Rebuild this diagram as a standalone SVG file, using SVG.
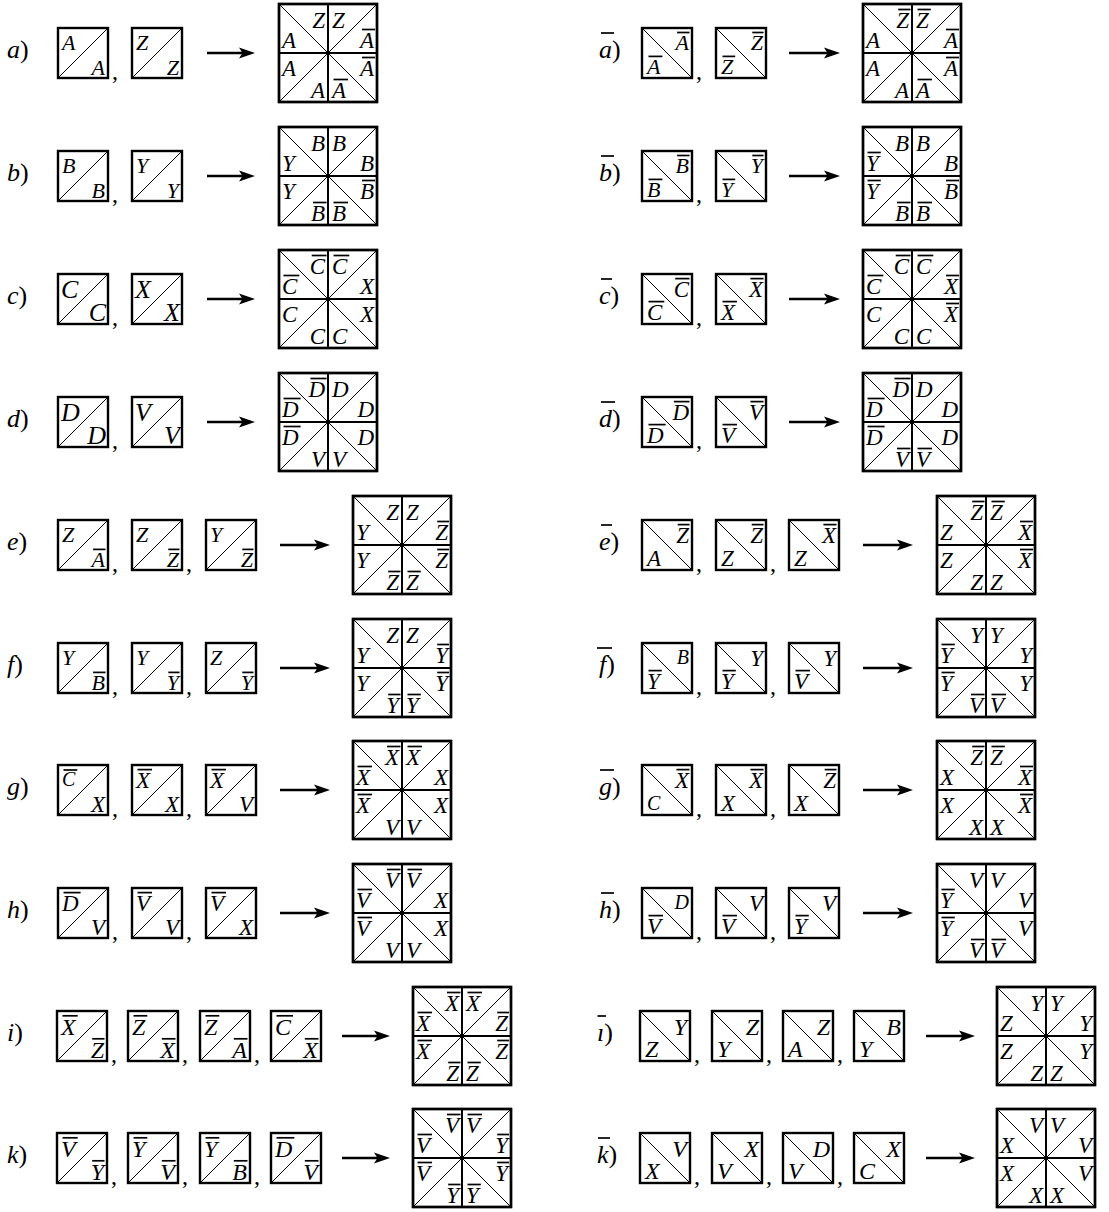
<svg xmlns="http://www.w3.org/2000/svg" width="1109" height="1212" viewBox="0 0 1109 1212">
<style>
.s{font-family:"Liberation Serif",serif;font-style:italic;fill:#000}
.L{font-family:"Liberation Serif",serif;font-style:italic;font-size:23px;fill:#000}
.s20{font-size:20px}.s22{font-size:22px}.s23{font-size:23px}.s24{font-size:24px}.s26{font-size:26px}
.e{text-anchor:end}
.lab{font-family:"Liberation Serif",serif;font-size:26px;fill:#000}
.lab .i{font-style:italic}
.cm{font-family:"Liberation Serif",serif;font-size:24px;fill:#000}
.fr{fill:#fff;stroke:#000;stroke-width:2.4}
.dg{stroke:#000;stroke-width:1;fill:none}
.cr{stroke:#000;stroke-width:2}
.ar{stroke:#000;stroke-width:2.6}
.bar{stroke:#000;stroke-width:1.7}
</style>
<defs>
<g id="sL"><rect class="fr" width="50" height="50"/><line class="dg" x1="0" y1="50" x2="50" y2="0"/></g>
<g id="sR"><rect class="fr" width="50" height="50"/><line class="dg" x1="0" y1="0" x2="50" y2="50"/></g>
<g id="bg"><rect class="fr" width="98" height="98"/><line class="dg" x1="0" y1="0" x2="98" y2="98"/><line class="dg" x1="0" y1="98" x2="98" y2="0"/><line class="cr" x1="49" y1="0" x2="49" y2="98"/><line class="cr" x1="0" y1="49" x2="98" y2="49"/><rect width="98" height="98" fill="none" stroke="#000" stroke-width="2.4"/></g>
<marker id="ah" markerUnits="userSpaceOnUse" markerWidth="17" markerHeight="12" refX="8" refY="6" orient="auto"><path d="M0,0.5 L16,6 L0,11.5 L3.5,6 z" fill="#000"/></marker>
</defs>

<g id="connectors">
<line class="ar" x1="207" y1="53" x2="247" y2="53" marker-end="url(#ah)"/>
<line class="ar" x1="207" y1="176" x2="247" y2="176" marker-end="url(#ah)"/>
<line class="ar" x1="207" y1="299" x2="247" y2="299" marker-end="url(#ah)"/>
<line class="ar" x1="207" y1="422" x2="247" y2="422" marker-end="url(#ah)"/>
<line class="ar" x1="280" y1="545" x2="322" y2="545" marker-end="url(#ah)"/>
<line class="ar" x1="280" y1="668" x2="322" y2="668" marker-end="url(#ah)"/>
<line class="ar" x1="280" y1="790" x2="322" y2="790" marker-end="url(#ah)"/>
<line class="ar" x1="280" y1="913" x2="322" y2="913" marker-end="url(#ah)"/>
<line class="ar" x1="342" y1="1036" x2="382" y2="1036" marker-end="url(#ah)"/>
<line class="ar" x1="342" y1="1158" x2="382" y2="1158" marker-end="url(#ah)"/>
<line class="ar" x1="789" y1="53" x2="832" y2="53" marker-end="url(#ah)"/>
<line class="ar" x1="789" y1="176" x2="832" y2="176" marker-end="url(#ah)"/>
<line class="ar" x1="789" y1="299" x2="832" y2="299" marker-end="url(#ah)"/>
<line class="ar" x1="789" y1="422" x2="832" y2="422" marker-end="url(#ah)"/>
<line class="ar" x1="863" y1="545" x2="905" y2="545" marker-end="url(#ah)"/>
<line class="ar" x1="863" y1="668" x2="905" y2="668" marker-end="url(#ah)"/>
<line class="ar" x1="863" y1="790" x2="905" y2="790" marker-end="url(#ah)"/>
<line class="ar" x1="863" y1="913" x2="905" y2="913" marker-end="url(#ah)"/>
<line class="ar" x1="926" y1="1036" x2="967" y2="1036" marker-end="url(#ah)"/>
<line class="ar" x1="926" y1="1158" x2="967" y2="1158" marker-end="url(#ah)"/>
</g>

<!-- ===== LEFT COLUMN ===== -->
<g id="row-a">
<text class="lab" x="7" y="58"><tspan class="i">a</tspan>)</text>
<g id="a-1" transform="translate(58,28)"><use href="#sL"/><text class="s s22" x="4" y="22">A</text><text class="s s22 e" x="47" y="47">A</text></g>
<text class="cm" x="112" y="79">,</text>
<g id="a-2" transform="translate(132,28)"><use href="#sL"/><text class="s s22" x="4" y="22">Z</text><text class="s s22 e" x="47" y="47">Z</text></g>
<g id="a-out" transform="translate(279,4)"><use href="#bg"/>
<text class="L e" x="46" y="24">Z</text><text class="L" x="53" y="24">Z</text>
<text class="L" x="3" y="44">A</text><text class="L e" x="95" y="44">A</text>
<text class="L" x="3" y="72">A</text><text class="L e" x="95" y="72">A</text>
<text class="L e" x="46" y="94">A</text><text class="L" x="53" y="94">A</text>
<line class="bar" x1="83" y1="25.5" x2="96" y2="25.5"/><line class="bar" x1="83" y1="53.5" x2="96" y2="53.5"/><line class="bar" x1="54.5" y1="75.5" x2="69" y2="75.5"/></g>
</g>

<g id="row-b">
<text class="lab" x="7" y="181"><tspan class="i">b</tspan>)</text>
<g id="b-1" transform="translate(58,151)"><use href="#sL"/><text class="s s22" x="4" y="22">B</text><text class="s s22 e" x="47" y="47">B</text></g>
<text class="cm" x="112" y="202">,</text>
<g id="b-2" transform="translate(132,151)"><use href="#sL"/><text class="s s22" x="4" y="22">Y</text><text class="s s22 e" x="47" y="47">Y</text></g>
<g id="b-out" transform="translate(279,127)"><use href="#bg"/>
<text class="L e" x="46" y="24">B</text><text class="L" x="53" y="24">B</text>
<text class="L" x="3" y="44">Y</text><text class="L e" x="95" y="44">B</text>
<text class="L" x="3" y="72">Y</text><text class="L e" x="95" y="72">B</text>
<text class="L e" x="46" y="94">B</text><text class="L" x="53" y="94">B</text>
<line class="bar" x1="83" y1="53.5" x2="96" y2="53.5"/><line class="bar" x1="34" y1="75.5" x2="47.5" y2="75.5"/><line class="bar" x1="54.5" y1="75.5" x2="69" y2="75.5"/></g>
</g>

<g id="row-c">
<text class="lab" x="7" y="304"><tspan class="i">c</tspan>)</text>
<g id="c-1" transform="translate(58,274)"><use href="#sL"/><text class="s s26" x="3" y="24">C</text><text class="s s26 e" x="48" y="47">C</text></g>
<text class="cm" x="112" y="325">,</text>
<g id="c-2" transform="translate(132,274)"><use href="#sL"/><text class="s s26" x="3" y="24">X</text><text class="s s26 e" x="48" y="47">X</text></g>
<g id="c-out" transform="translate(279,250)"><use href="#bg"/>
<text class="L e" x="46" y="24">C</text><text class="L" x="53" y="24">C</text>
<text class="L" x="3" y="44">C</text><text class="L e" x="95" y="44">X</text>
<text class="L" x="3" y="72">C</text><text class="L e" x="95" y="72">X</text>
<text class="L e" x="46" y="94">C</text><text class="L" x="53" y="94">C</text>
<line class="bar" x1="32.7" y1="5.5" x2="47.5" y2="5.5"/><line class="bar" x1="54.5" y1="5.5" x2="70.3" y2="5.5"/><line class="bar" x1="4.5" y1="25.5" x2="20.3" y2="25.5"/></g>
</g>

<g id="row-d">
<text class="lab" x="7" y="427"><tspan class="i">d</tspan>)</text>
<g id="d-1" transform="translate(58,397)"><use href="#sL"/><text class="s s26" x="3" y="24">D</text><text class="s s26 e" x="48" y="47">D</text></g>
<text class="cm" x="112" y="448">,</text>
<g id="d-2" transform="translate(132,397)"><use href="#sL"/><text class="s s26" x="3" y="24">V</text><text class="s s26 e" x="48" y="47">V</text></g>
<g id="d-out" transform="translate(279,373)"><use href="#bg"/>
<text class="L e" x="46" y="24">D</text><text class="L" x="53" y="24">D</text>
<text class="L" x="3" y="44">D</text><text class="L e" x="95" y="44">D</text>
<text class="L" x="3" y="72">D</text><text class="L e" x="95" y="72">D</text>
<text class="L e" x="46" y="94">V</text><text class="L" x="53" y="94">V</text>
<line class="bar" x1="31.4" y1="5.5" x2="47.5" y2="5.5"/><line class="bar" x1="4.5" y1="25.5" x2="21.6" y2="25.5"/><line class="bar" x1="4.5" y1="53.5" x2="21.6" y2="53.5"/></g>
</g>

<g id="row-e">
<text class="lab" x="7" y="550"><tspan class="i">e</tspan>)</text>
<g id="e-1" transform="translate(58,520)"><use href="#sL"/><text class="s s22" x="4" y="22">Z</text><text class="s s22 e" x="47" y="47">A</text><line class="bar" x1="35.1" y1="29.4" x2="47.5" y2="29.4"/></g>
<text class="cm" x="112" y="571">,</text>
<g id="e-2" transform="translate(132,520)"><use href="#sL"/><text class="s s22" x="4" y="22">Z</text><text class="s s22 e" x="47" y="47">Z</text><line class="bar" x1="36.3" y1="29.4" x2="47.5" y2="29.4"/></g>
<text class="cm" x="186" y="571">,</text>
<g id="e-3" transform="translate(206,520)"><use href="#sL"/><text class="s s22" x="4" y="22">Y</text><text class="s s22 e" x="47" y="47">Z</text><line class="bar" x1="36.3" y1="29.4" x2="47.5" y2="29.4"/></g>
<g id="e-out" transform="translate(353,496)"><use href="#bg"/>
<text class="L e" x="46" y="24">Z</text><text class="L" x="53" y="24">Z</text>
<text class="L" x="3" y="44">Y</text><text class="L e" x="95" y="44">Z</text>
<text class="L" x="3" y="72">Y</text><text class="L e" x="95" y="72">Z</text>
<text class="L e" x="46" y="94">Z</text><text class="L" x="53" y="94">Z</text>
<line class="bar" x1="84.2" y1="25.5" x2="96" y2="25.5"/><line class="bar" x1="84.2" y1="53.5" x2="96" y2="53.5"/><line class="bar" x1="35.2" y1="75.5" x2="47.5" y2="75.5"/><line class="bar" x1="54.5" y1="75.5" x2="67.8" y2="75.5"/></g>
</g>

<g id="row-f">
<text class="lab" x="7" y="673"><tspan class="i">f</tspan>)</text>
<g id="f-1" transform="translate(58,643)"><use href="#sL"/><text class="s s22" x="4" y="22">Y</text><text class="s s22 e" x="47" y="47">B</text><line class="bar" x1="35.1" y1="29.4" x2="47.5" y2="29.4"/></g>
<text class="cm" x="112" y="694">,</text>
<g id="f-2" transform="translate(132,643)"><use href="#sL"/><text class="s s22" x="4" y="22">Y</text><text class="s s22 e" x="47" y="47">Y</text><line class="bar" x1="36.3" y1="29.4" x2="47.5" y2="29.4"/></g>
<text class="cm" x="186" y="694">,</text>
<g id="f-3" transform="translate(206,643)"><use href="#sL"/><text class="s s22" x="4" y="22">Z</text><text class="s s22 e" x="47" y="47">Y</text><line class="bar" x1="36.3" y1="29.4" x2="47.5" y2="29.4"/></g>
<g id="f-out" transform="translate(353,619)"><use href="#bg"/>
<text class="L e" x="46" y="24">Z</text><text class="L" x="53" y="24">Z</text>
<text class="L" x="3" y="44">Y</text><text class="L e" x="95" y="44">Y</text>
<text class="L" x="3" y="72">Y</text><text class="L e" x="95" y="72">Y</text>
<text class="L e" x="46" y="94">Y</text><text class="L" x="53" y="94">Y</text>
<line class="bar" x1="84.2" y1="25.5" x2="96" y2="25.5"/><line class="bar" x1="84.2" y1="53.5" x2="96" y2="53.5"/><line class="bar" x1="35.2" y1="75.5" x2="47.5" y2="75.5"/><line class="bar" x1="54.5" y1="75.5" x2="67.8" y2="75.5"/></g>
</g>

<g id="row-g">
<text class="lab" x="7" y="795"><tspan class="i">g</tspan>)</text>
<g id="g-1" transform="translate(58,765)"><use href="#sL"/><text class="s s20" x="4" y="21">C</text><text class="s s23 e" x="47" y="47">X</text><line class="bar" x1="5.5" y1="5" x2="19.3" y2="5"/></g>
<text class="cm" x="112" y="816">,</text>
<g id="g-2" transform="translate(132,765)"><use href="#sL"/><text class="s s23" x="4" y="23">X</text><text class="s s23 e" x="47" y="47">X</text><line class="bar" x1="5.5" y1="4.6" x2="20" y2="4.6"/></g>
<text class="cm" x="186" y="816">,</text>
<g id="g-3" transform="translate(206,765)"><use href="#sL"/><text class="s s23" x="4" y="23">X</text><text class="s s23 e" x="47" y="47">V</text><line class="bar" x1="5.5" y1="4.6" x2="20" y2="4.6"/></g>
<g id="g-out" transform="translate(353,741)"><use href="#bg"/>
<text class="L e" x="46" y="24">X</text><text class="L" x="53" y="24">X</text>
<text class="L" x="3" y="44">X</text><text class="L e" x="95" y="44">X</text>
<text class="L" x="3" y="72">X</text><text class="L e" x="95" y="72">X</text>
<text class="L e" x="46" y="94">V</text><text class="L" x="53" y="94">V</text>
<line class="bar" x1="34" y1="5.5" x2="47.5" y2="5.5"/><line class="bar" x1="54.5" y1="5.5" x2="69" y2="5.5"/><line class="bar" x1="4.5" y1="25.5" x2="19" y2="25.5"/><line class="bar" x1="4.5" y1="53.5" x2="19" y2="53.5"/></g>
</g>

<g id="row-h">
<text class="lab" x="7" y="918"><tspan class="i">h</tspan>)</text>
<g id="h-1" transform="translate(58,888)"><use href="#sL"/><text class="s s23" x="4" y="23">D</text><text class="s s23 e" x="47" y="47">V</text><line class="bar" x1="5.5" y1="4.6" x2="22.6" y2="4.6"/></g>
<text class="cm" x="112" y="939">,</text>
<g id="h-2" transform="translate(132,888)"><use href="#sL"/><text class="s s23" x="4" y="23">V</text><text class="s s23 e" x="47" y="47">V</text><line class="bar" x1="5.5" y1="4.6" x2="20" y2="4.6"/></g>
<text class="cm" x="186" y="939">,</text>
<g id="h-3" transform="translate(206,888)"><use href="#sL"/><text class="s s23" x="4" y="23">V</text><text class="s s23 e" x="47" y="47">X</text><line class="bar" x1="5.5" y1="4.6" x2="20" y2="4.6"/></g>
<g id="h-out" transform="translate(353,864)"><use href="#bg"/>
<text class="L e" x="46" y="24">V</text><text class="L" x="53" y="24">V</text>
<text class="L" x="3" y="44">V</text><text class="L e" x="95" y="44">X</text>
<text class="L" x="3" y="72">V</text><text class="L e" x="95" y="72">X</text>
<text class="L e" x="46" y="94">V</text><text class="L" x="53" y="94">V</text>
<line class="bar" x1="34" y1="5.5" x2="47.5" y2="5.5"/><line class="bar" x1="54.5" y1="5.5" x2="69" y2="5.5"/><line class="bar" x1="4.5" y1="25.5" x2="19" y2="25.5"/><line class="bar" x1="4.5" y1="53.5" x2="19" y2="53.5"/></g>
</g>

<g id="row-i">
<text class="lab" x="7" y="1041"><tspan class="i">i</tspan>)</text>
<g id="i-1" transform="translate(57,1011)"><use href="#sL"/><text class="s s24" x="4" y="24">X</text><text class="s s24 e" x="47" y="47">Z</text><line class="bar" x1="5.5" y1="4.8" x2="20.7" y2="4.8"/><line class="bar" x1="35.2" y1="27.8" x2="47.5" y2="27.8"/></g>
<text class="cm" x="111" y="1062">,</text>
<g id="i-2" transform="translate(128,1011)"><use href="#sL"/><text class="s s24" x="4" y="24">Z</text><text class="s s24 e" x="47" y="47">X</text><line class="bar" x1="5.5" y1="4.8" x2="19.3" y2="4.8"/><line class="bar" x1="33.8" y1="27.8" x2="47.5" y2="27.8"/></g>
<text class="cm" x="182" y="1062">,</text>
<g id="i-3" transform="translate(200,1011)"><use href="#sL"/><text class="s s24" x="4" y="24">Z</text><text class="s s24 e" x="47" y="47">A</text><line class="bar" x1="5.5" y1="4.8" x2="19.3" y2="4.8"/><line class="bar" x1="33.8" y1="27.8" x2="47.5" y2="27.8"/></g>
<text class="cm" x="254" y="1062">,</text>
<g id="i-4" transform="translate(271,1011)"><use href="#sL"/><text class="s s24" x="4" y="24">C</text><text class="s s24 e" x="47" y="47">X</text><line class="bar" x1="5.5" y1="4.8" x2="22" y2="4.8"/><line class="bar" x1="33.8" y1="27.8" x2="47.5" y2="27.8"/></g>
<g id="i-out" transform="translate(413,987)"><use href="#bg"/>
<text class="L e" x="46" y="24">X</text><text class="L" x="53" y="24">X</text>
<text class="L" x="3" y="44">X</text><text class="L e" x="95" y="44">Z</text>
<text class="L" x="3" y="72">X</text><text class="L e" x="95" y="72">Z</text>
<text class="L e" x="46" y="94">Z</text><text class="L" x="53" y="94">Z</text>
<line class="bar" x1="34" y1="5.5" x2="47.5" y2="5.5"/><line class="bar" x1="54.5" y1="5.5" x2="69" y2="5.5"/><line class="bar" x1="4.5" y1="25.5" x2="19" y2="25.5"/><line class="bar" x1="84.2" y1="25.5" x2="96" y2="25.5"/><line class="bar" x1="4.5" y1="53.5" x2="19" y2="53.5"/><line class="bar" x1="84.2" y1="53.5" x2="96" y2="53.5"/><line class="bar" x1="35.2" y1="75.5" x2="47.5" y2="75.5"/><line class="bar" x1="54.5" y1="75.5" x2="67.8" y2="75.5"/></g>
</g>

<g id="row-k">
<text class="lab" x="7" y="1163"><tspan class="i">k</tspan>)</text>
<g id="k-1" transform="translate(57,1133)"><use href="#sL"/><text class="s s24" x="4" y="24">V</text><text class="s s24 e" x="47" y="47">Y</text><line class="bar" x1="5.5" y1="4.8" x2="20.7" y2="4.8"/><line class="bar" x1="35.2" y1="27.8" x2="47.5" y2="27.8"/></g>
<text class="cm" x="111" y="1184">,</text>
<g id="k-2" transform="translate(128,1133)"><use href="#sL"/><text class="s s24" x="4" y="24">Y</text><text class="s s24 e" x="47" y="47">V</text><line class="bar" x1="5.5" y1="4.8" x2="19.3" y2="4.8"/><line class="bar" x1="33.8" y1="27.8" x2="47.5" y2="27.8"/></g>
<text class="cm" x="182" y="1184">,</text>
<g id="k-3" transform="translate(200,1133)"><use href="#sL"/><text class="s s24" x="4" y="24">Y</text><text class="s s24 e" x="47" y="47">B</text><line class="bar" x1="5.5" y1="4.8" x2="19.3" y2="4.8"/><line class="bar" x1="33.8" y1="27.8" x2="47.5" y2="27.8"/></g>
<text class="cm" x="254" y="1184">,</text>
<g id="k-4" transform="translate(271,1133)"><use href="#sL"/><text class="s s24" x="4" y="24">D</text><text class="s s24 e" x="47" y="47">V</text><line class="bar" x1="5.5" y1="4.8" x2="23.3" y2="4.8"/><line class="bar" x1="33.8" y1="27.8" x2="47.5" y2="27.8"/></g>
<g id="k-out" transform="translate(413,1109)"><use href="#bg"/>
<text class="L e" x="46" y="24">V</text><text class="L" x="53" y="24">V</text>
<text class="L" x="3" y="44">V</text><text class="L e" x="95" y="44">Y</text>
<text class="L" x="3" y="72">V</text><text class="L e" x="95" y="72">Y</text>
<text class="L e" x="46" y="94">Y</text><text class="L" x="53" y="94">Y</text>
<line class="bar" x1="34" y1="5.5" x2="47.5" y2="5.5"/><line class="bar" x1="54.5" y1="5.5" x2="69" y2="5.5"/><line class="bar" x1="4.5" y1="25.5" x2="19" y2="25.5"/><line class="bar" x1="84.2" y1="25.5" x2="96" y2="25.5"/><line class="bar" x1="4.5" y1="53.5" x2="19" y2="53.5"/><line class="bar" x1="84.2" y1="53.5" x2="96" y2="53.5"/><line class="bar" x1="35.2" y1="75.5" x2="47.5" y2="75.5"/><line class="bar" x1="54.5" y1="75.5" x2="67.8" y2="75.5"/></g>
</g>

<!-- ===== RIGHT COLUMN ===== -->
<g id="row-abar">
<text class="lab" x="599" y="58"><tspan class="i">a</tspan>)</text><line class="bar" x1="601" y1="33" x2="614" y2="33"/>
<g id="abar-1" transform="translate(642,28)"><use href="#sR"/><text class="s s22 e" x="47" y="22">A</text><text class="s s22" x="5" y="46">A</text><line class="bar" x1="35.1" y1="4.5" x2="47.5" y2="4.5"/><line class="bar" x1="6.5" y1="28.4" x2="20.4" y2="28.4"/></g>
<text class="cm" x="696" y="79">,</text>
<g id="abar-2" transform="translate(716,28)"><use href="#sR"/><text class="s s22 e" x="47" y="22">Z</text><text class="s s22" x="5" y="46">Z</text><line class="bar" x1="36.3" y1="4.5" x2="47.5" y2="4.5"/><line class="bar" x1="6.5" y1="28.4" x2="19.2" y2="28.4"/></g>
<g id="abar-out" transform="translate(863,4)"><use href="#bg"/>
<text class="L e" x="46" y="24">Z</text><text class="L" x="53" y="24">Z</text>
<text class="L" x="3" y="44">A</text><text class="L e" x="95" y="44">A</text>
<text class="L" x="3" y="72">A</text><text class="L e" x="95" y="72">A</text>
<text class="L e" x="46" y="94">A</text><text class="L" x="53" y="94">A</text>
<line class="bar" x1="35.2" y1="5.5" x2="47.5" y2="5.5"/><line class="bar" x1="54.5" y1="5.5" x2="67.8" y2="5.5"/><line class="bar" x1="83" y1="25.5" x2="96" y2="25.5"/><line class="bar" x1="83" y1="53.5" x2="96" y2="53.5"/><line class="bar" x1="54.5" y1="75.5" x2="69" y2="75.5"/></g>
</g>

<g id="row-bbar">
<text class="lab" x="599" y="181"><tspan class="i">b</tspan>)</text><line class="bar" x1="601" y1="156" x2="614" y2="156"/>
<g id="bbar-1" transform="translate(642,151)"><use href="#sR"/><text class="s s22 e" x="47" y="22">B</text><text class="s s22" x="5" y="46">B</text><line class="bar" x1="35.1" y1="4.5" x2="47.5" y2="4.5"/><line class="bar" x1="6.5" y1="28.4" x2="20.4" y2="28.4"/></g>
<text class="cm" x="696" y="202">,</text>
<g id="bbar-2" transform="translate(716,151)"><use href="#sR"/><text class="s s22 e" x="47" y="22">Y</text><text class="s s22" x="5" y="46">Y</text><line class="bar" x1="36.3" y1="4.5" x2="47.5" y2="4.5"/><line class="bar" x1="6.5" y1="28.4" x2="19.2" y2="28.4"/></g>
<g id="bbar-out" transform="translate(863,127)"><use href="#bg"/>
<text class="L e" x="46" y="24">B</text><text class="L" x="53" y="24">B</text>
<text class="L" x="3" y="44">Y</text><text class="L e" x="95" y="44">B</text>
<text class="L" x="3" y="72">Y</text><text class="L e" x="95" y="72">B</text>
<text class="L e" x="46" y="94">B</text><text class="L" x="53" y="94">B</text>
<line class="bar" x1="4.5" y1="25.5" x2="17.8" y2="25.5"/><line class="bar" x1="4.5" y1="53.5" x2="17.8" y2="53.5"/><line class="bar" x1="83" y1="53.5" x2="96" y2="53.5"/><line class="bar" x1="34" y1="75.5" x2="47.5" y2="75.5"/><line class="bar" x1="54.5" y1="75.5" x2="69" y2="75.5"/></g>
</g>

<g id="row-cbar">
<text class="lab" x="599" y="304"><tspan class="i">c</tspan>)</text><line class="bar" x1="601" y1="279" x2="612" y2="279"/>
<g id="cbar-1" transform="translate(642,274)"><use href="#sR"/><text class="s s23 e" x="47" y="23">C</text><text class="s s23" x="5" y="46">C</text><line class="bar" x1="33.2" y1="4.6" x2="47.5" y2="4.6"/><line class="bar" x1="6.5" y1="27.6" x2="22.3" y2="27.6"/></g>
<text class="cm" x="696" y="325">,</text>
<g id="cbar-2" transform="translate(716,274)"><use href="#sR"/><text class="s s23 e" x="47" y="23">X</text><text class="s s23" x="5" y="46">X</text><line class="bar" x1="34.4" y1="4.6" x2="47.5" y2="4.6"/><line class="bar" x1="6.5" y1="27.6" x2="21" y2="27.6"/></g>
<g id="cbar-out" transform="translate(863,250)"><use href="#bg"/>
<text class="L e" x="46" y="24">C</text><text class="L" x="53" y="24">C</text>
<text class="L" x="3" y="44">C</text><text class="L e" x="95" y="44">X</text>
<text class="L" x="3" y="72">C</text><text class="L e" x="95" y="72">X</text>
<text class="L e" x="46" y="94">C</text><text class="L" x="53" y="94">C</text>
<line class="bar" x1="32.7" y1="5.5" x2="47.5" y2="5.5"/><line class="bar" x1="54.5" y1="5.5" x2="70.3" y2="5.5"/><line class="bar" x1="4.5" y1="25.5" x2="20.3" y2="25.5"/><line class="bar" x1="83" y1="25.5" x2="96" y2="25.5"/><line class="bar" x1="83" y1="53.5" x2="96" y2="53.5"/></g>
</g>

<g id="row-dbar">
<text class="lab" x="599" y="427"><tspan class="i">d</tspan>)</text><line class="bar" x1="601" y1="402" x2="615" y2="402"/>
<g id="dbar-1" transform="translate(642,397)"><use href="#sR"/><text class="s s23 e" x="47" y="23">D</text><text class="s s23" x="5" y="46">D</text><line class="bar" x1="31.9" y1="4.6" x2="47.5" y2="4.6"/><line class="bar" x1="6.5" y1="27.6" x2="23.6" y2="27.6"/></g>
<text class="cm" x="696" y="448">,</text>
<g id="dbar-2" transform="translate(716,397)"><use href="#sR"/><text class="s s23 e" x="47" y="23">V</text><text class="s s23" x="5" y="46">V</text><line class="bar" x1="34.4" y1="4.6" x2="47.5" y2="4.6"/><line class="bar" x1="6.5" y1="27.6" x2="21" y2="27.6"/></g>
<g id="dbar-out" transform="translate(863,373)"><use href="#bg"/>
<text class="L e" x="46" y="24">D</text><text class="L" x="53" y="24">D</text>
<text class="L" x="3" y="44">D</text><text class="L e" x="95" y="44">D</text>
<text class="L" x="3" y="72">D</text><text class="L e" x="95" y="72">D</text>
<text class="L e" x="46" y="94">V</text><text class="L" x="53" y="94">V</text>
<line class="bar" x1="31.4" y1="5.5" x2="47.5" y2="5.5"/><line class="bar" x1="4.5" y1="25.5" x2="21.6" y2="25.5"/><line class="bar" x1="4.5" y1="53.5" x2="21.6" y2="53.5"/><line class="bar" x1="34" y1="75.5" x2="47.5" y2="75.5"/><line class="bar" x1="54.5" y1="75.5" x2="69" y2="75.5"/></g>
</g>

<g id="row-ebar">
<text class="lab" x="599" y="550"><tspan class="i">e</tspan>)</text><line class="bar" x1="601" y1="525" x2="612" y2="525"/>
<g id="ebar-1" transform="translate(642,520)"><use href="#sR"/><text class="s s23 e" x="47" y="23">Z</text><text class="s s23" x="5" y="46">A</text><line class="bar" x1="35.7" y1="4.6" x2="47.5" y2="4.6"/></g>
<text class="cm" x="696" y="571">,</text>
<g id="ebar-2" transform="translate(716,520)"><use href="#sR"/><text class="s s23 e" x="47" y="23">Z</text><text class="s s23" x="5" y="46">Z</text><line class="bar" x1="35.7" y1="4.6" x2="47.5" y2="4.6"/></g>
<text class="cm" x="770" y="571">,</text>
<g id="ebar-3" transform="translate(789,520)"><use href="#sR"/><text class="s s23 e" x="47" y="23">X</text><text class="s s23" x="5" y="46">Z</text><line class="bar" x1="34.4" y1="4.6" x2="47.5" y2="4.6"/></g>
<g id="ebar-out" transform="translate(937,496)"><use href="#bg"/>
<text class="L e" x="46" y="24">Z</text><text class="L" x="53" y="24">Z</text>
<text class="L" x="3" y="44">Z</text><text class="L e" x="95" y="44">X</text>
<text class="L" x="3" y="72">Z</text><text class="L e" x="95" y="72">X</text>
<text class="L e" x="46" y="94">Z</text><text class="L" x="53" y="94">Z</text>
<line class="bar" x1="35.2" y1="5.5" x2="47.5" y2="5.5"/><line class="bar" x1="54.5" y1="5.5" x2="67.8" y2="5.5"/><line class="bar" x1="83" y1="25.5" x2="96" y2="25.5"/><line class="bar" x1="83" y1="53.5" x2="96" y2="53.5"/></g>
</g>

<g id="row-fbar">
<text class="lab" x="599" y="673"><tspan class="i">f</tspan>)</text><line class="bar" x1="597" y1="648" x2="612" y2="648"/>
<g id="fbar-1" transform="translate(642,643)"><use href="#sR"/><text class="s s20 e" x="47" y="21">B</text><text class="s s23" x="5" y="46">Y</text><line class="bar" x1="6.5" y1="27.6" x2="19.8" y2="27.6"/></g>
<text class="cm" x="696" y="694">,</text>
<g id="fbar-2" transform="translate(716,643)"><use href="#sR"/><text class="s s23 e" x="47" y="23">Y</text><text class="s s23" x="5" y="46">Y</text><line class="bar" x1="6.5" y1="27.6" x2="19.8" y2="27.6"/></g>
<text class="cm" x="770" y="694">,</text>
<g id="fbar-3" transform="translate(789,643)"><use href="#sR"/><text class="s s23 e" x="47" y="23">Y</text><text class="s s23" x="5" y="46">V</text><line class="bar" x1="6.5" y1="27.6" x2="21" y2="27.6"/></g>
<g id="fbar-out" transform="translate(937,619)"><use href="#bg"/>
<text class="L e" x="46" y="24">Y</text><text class="L" x="53" y="24">Y</text>
<text class="L" x="3" y="44">Y</text><text class="L e" x="95" y="44">Y</text>
<text class="L" x="3" y="72">Y</text><text class="L e" x="95" y="72">Y</text>
<text class="L e" x="46" y="94">V</text><text class="L" x="53" y="94">V</text>
<line class="bar" x1="4.5" y1="25.5" x2="17.8" y2="25.5"/><line class="bar" x1="4.5" y1="53.5" x2="17.8" y2="53.5"/><line class="bar" x1="34" y1="75.5" x2="47.5" y2="75.5"/><line class="bar" x1="54.5" y1="75.5" x2="69" y2="75.5"/></g>
</g>

<g id="row-gbar">
<text class="lab" x="599" y="795"><tspan class="i">g</tspan>)</text><line class="bar" x1="600" y1="770" x2="614" y2="770"/>
<g id="gbar-1" transform="translate(642,765)"><use href="#sR"/><text class="s s23 e" x="47" y="23">X</text><text class="s s20" x="5" y="45">C</text><line class="bar" x1="34.4" y1="4.6" x2="47.5" y2="4.6"/></g>
<text class="cm" x="696" y="816">,</text>
<g id="gbar-2" transform="translate(716,765)"><use href="#sR"/><text class="s s23 e" x="47" y="23">X</text><text class="s s23" x="5" y="46">X</text><line class="bar" x1="34.4" y1="4.6" x2="47.5" y2="4.6"/></g>
<text class="cm" x="770" y="816">,</text>
<g id="gbar-3" transform="translate(789,765)"><use href="#sR"/><text class="s s23 e" x="47" y="23">Z</text><text class="s s23" x="5" y="46">X</text><line class="bar" x1="35.7" y1="4.6" x2="47.5" y2="4.6"/></g>
<g id="gbar-out" transform="translate(937,741)"><use href="#bg"/>
<text class="L e" x="46" y="24">Z</text><text class="L" x="53" y="24">Z</text>
<text class="L" x="3" y="44">X</text><text class="L e" x="95" y="44">X</text>
<text class="L" x="3" y="72">X</text><text class="L e" x="95" y="72">X</text>
<text class="L e" x="46" y="94">X</text><text class="L" x="53" y="94">X</text>
<line class="bar" x1="35.2" y1="5.5" x2="47.5" y2="5.5"/><line class="bar" x1="54.5" y1="5.5" x2="67.8" y2="5.5"/><line class="bar" x1="83" y1="25.5" x2="96" y2="25.5"/><line class="bar" x1="83" y1="53.5" x2="96" y2="53.5"/></g>
</g>

<g id="row-hbar">
<text class="lab" x="599" y="918"><tspan class="i">h</tspan>)</text><line class="bar" x1="601" y1="893" x2="614" y2="893"/>
<g id="hbar-1" transform="translate(642,888)"><use href="#sR"/><text class="s s20 e" x="47" y="21">D</text><text class="s s23" x="5" y="46">V</text><line class="bar" x1="6.5" y1="27.6" x2="21" y2="27.6"/></g>
<text class="cm" x="696" y="939">,</text>
<g id="hbar-2" transform="translate(716,888)"><use href="#sR"/><text class="s s23 e" x="47" y="23">V</text><text class="s s23" x="5" y="46">V</text><line class="bar" x1="6.5" y1="27.6" x2="21" y2="27.6"/></g>
<text class="cm" x="770" y="939">,</text>
<g id="hbar-3" transform="translate(789,888)"><use href="#sR"/><text class="s s23 e" x="47" y="23">V</text><text class="s s23" x="5" y="46">Y</text><line class="bar" x1="6.5" y1="27.6" x2="19.8" y2="27.6"/></g>
<g id="hbar-out" transform="translate(937,864)"><use href="#bg"/>
<text class="L e" x="46" y="24">V</text><text class="L" x="53" y="24">V</text>
<text class="L" x="3" y="44">Y</text><text class="L e" x="95" y="44">V</text>
<text class="L" x="3" y="72">Y</text><text class="L e" x="95" y="72">V</text>
<text class="L e" x="46" y="94">V</text><text class="L" x="53" y="94">V</text>
<line class="bar" x1="4.5" y1="25.5" x2="17.8" y2="25.5"/><line class="bar" x1="4.5" y1="53.5" x2="17.8" y2="53.5"/><line class="bar" x1="34" y1="75.5" x2="47.5" y2="75.5"/><line class="bar" x1="54.5" y1="75.5" x2="69" y2="75.5"/></g>
</g>

<g id="row-ibar">
<text class="lab" x="597" y="1041"><tspan class="i">ı</tspan>)</text><line class="bar" x1="597.5" y1="1016" x2="606" y2="1016"/>
<g id="ibar-1" transform="translate(640,1011)"><use href="#sR"/><text class="s s24 e" x="47" y="24">Y</text><text class="s s24" x="5" y="46">Z</text></g>
<text class="cm" x="694" y="1062">,</text>
<g id="ibar-2" transform="translate(712,1011)"><use href="#sR"/><text class="s s24 e" x="47" y="24">Z</text><text class="s s24" x="5" y="46">Y</text></g>
<text class="cm" x="766" y="1062">,</text>
<g id="ibar-3" transform="translate(783,1011)"><use href="#sR"/><text class="s s24 e" x="47" y="24">Z</text><text class="s s24" x="5" y="46">A</text></g>
<text class="cm" x="837" y="1062">,</text>
<g id="ibar-4" transform="translate(854,1011)"><use href="#sR"/><text class="s s24 e" x="47" y="24">B</text><text class="s s24" x="5" y="46">Y</text></g>
<g id="ibar-out" transform="translate(997,987)"><use href="#bg"/>
<text class="L e" x="46" y="24">Y</text><text class="L" x="53" y="24">Y</text>
<text class="L" x="3" y="44">Z</text><text class="L e" x="95" y="44">Y</text>
<text class="L" x="3" y="72">Z</text><text class="L e" x="95" y="72">Y</text>
<text class="L e" x="46" y="94">Z</text><text class="L" x="53" y="94">Z</text></g>
</g>

<g id="row-kbar">
<text class="lab" x="597" y="1163"><tspan class="i">k</tspan>)</text><line class="bar" x1="598" y1="1138" x2="610" y2="1138"/>
<g id="kbar-1" transform="translate(640,1133)"><use href="#sR"/><text class="s s24 e" x="47" y="24">V</text><text class="s s24" x="5" y="46">X</text></g>
<text class="cm" x="694" y="1184">,</text>
<g id="kbar-2" transform="translate(712,1133)"><use href="#sR"/><text class="s s24 e" x="47" y="24">X</text><text class="s s24" x="5" y="46">V</text></g>
<text class="cm" x="766" y="1184">,</text>
<g id="kbar-3" transform="translate(783,1133)"><use href="#sR"/><text class="s s24 e" x="47" y="24">D</text><text class="s s24" x="5" y="46">V</text></g>
<text class="cm" x="837" y="1184">,</text>
<g id="kbar-4" transform="translate(854,1133)"><use href="#sR"/><text class="s s24 e" x="47" y="24">X</text><text class="s s24" x="5" y="46">C</text></g>
<g id="kbar-out" transform="translate(997,1109)"><use href="#bg"/>
<text class="L e" x="46" y="24">V</text><text class="L" x="53" y="24">V</text>
<text class="L" x="3" y="44">X</text><text class="L e" x="95" y="44">V</text>
<text class="L" x="3" y="72">X</text><text class="L e" x="95" y="72">V</text>
<text class="L e" x="46" y="94">X</text><text class="L" x="53" y="94">X</text></g>
</g>
</svg>
